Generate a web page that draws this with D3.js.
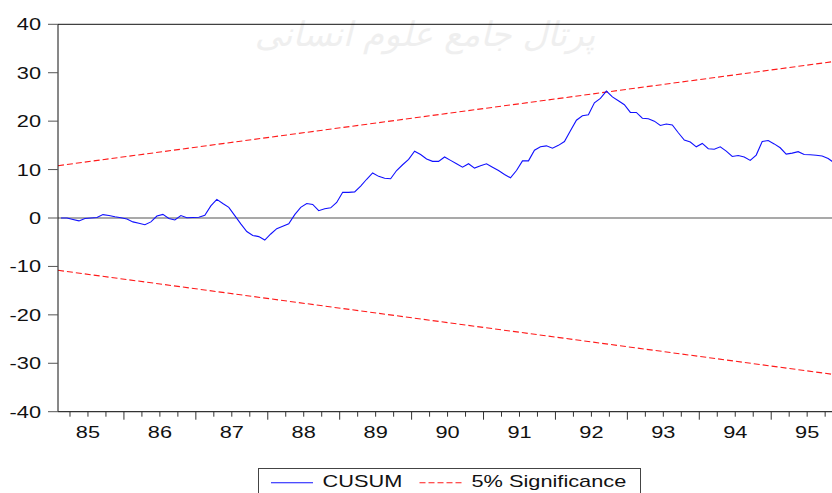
<!DOCTYPE html>
<html>
<head>
<meta charset="utf-8">
<script src="https://cdn.jsdelivr.net/npm/d3@7"></script>
<style>
  html, body { margin: 0; padding: 0; background: #fff; }
  svg { display: block; }
  text { font-family: "Liberation Sans", Arial, sans-serif; }
</style>
</head>
<body>
<svg id="chart" width="832" height="493"></svg>
<script>
// ---- data (monthly CUSUM, 1985M2 .. 1995M11) ----
const startYear = 1985;
const startMonth = 2;
const cusum = [
  0.0, 0.0, -0.3, -0.6, -0.1, 0.0, 0.1, 0.7, 0.5, 0.25,
  0.05, -0.2, -0.8, -1.1, -1.4, -0.8, 0.4, 0.75, -0.1, -0.4,
  0.5, 0.05, 0.1, 0.15, 0.55, 2.5, 3.85, 3.0, 2.2, 0.5,
  -1.2, -2.8, -3.6, -3.85, -4.55, -3.3, -2.2, -1.7, -1.2, 0.7,
  2.2, 3.0, 2.8, 1.5, 1.9, 2.1, 3.2, 5.3, 5.3, 5.4,
  6.6, 8.0, 9.3, 8.6, 8.2, 8.1, 9.8, 11.0, 12.1, 13.8,
  13.1, 12.2, 11.7, 11.7, 12.6, 11.9, 11.2, 10.5, 11.2, 10.3,
  10.8, 11.2, 10.5, 9.8, 9.0, 8.3, 9.8, 11.8, 11.8, 14.0,
  14.7, 14.9, 14.4, 15.0, 15.8, 18.0, 20.2, 21.1, 21.3, 23.8,
  24.7, 26.2, 25.0, 24.2, 23.4, 21.8, 21.8, 20.6, 20.5, 20.0,
  19.1, 19.4, 19.2, 17.6, 16.1, 15.7, 14.7, 15.4, 14.3, 14.2,
  14.7, 13.8, 12.7, 12.9, 12.6, 11.9, 13.0, 15.8, 16.0, 15.3,
  14.5, 13.2, 13.4, 13.7, 13.1, 13.05, 12.95, 12.8, 12.3, 11.4
];
// 5% significance bounds at the start and end of the sample
const upperBound = [10.8, 32.4];
const lowerBound = [-10.8, -32.4];
const yTicks = [-40, -30, -20, -10, 0, 10, 20, 30, 40];
const yearLabels = ["85","86","87","88","89","90","91","92","93","94","95"];
const watermark = "پرتال جامع علوم انسانی";

(function () {
// ---- layout ----
const svg = d3.select("#chart");
const mLeft = 58, mTop = 24.3, mBottom = 411.7;
const pxPerYear = 71.92;
const t0 = startYear + (startMonth - 1) / 12;
const t1 = t0 + cusum.length / 12;
const x = d3.scaleLinear().domain([t0, t1]).range([mLeft, mLeft + pxPerYear * (t1 - t0)]);
const y = d3.scaleLinear().domain([-40, 40]).range([mBottom, mTop]);
const mRight = x(t1);
const sx = 1.28; // horizontal text stretch
const fs = 17;

// watermark
svg.append("text")
  .attr("x", 425).attr("y", 46)
  .attr("text-anchor", "middle")
  .attr("direction", "rtl")
  .style("font-family", "'DejaVu Sans', 'Noto Sans', sans-serif")
  .style("font-size", "34px")
  .style("font-style", "italic")
  .attr("fill", "#efefef")
  .text(watermark);

// zero line
svg.append("line")
  .attr("x1", mLeft).attr("x2", mRight)
  .attr("y1", y(0)).attr("y2", y(0))
  .attr("stroke", "#555").attr("stroke-width", 1.2);

// bounds
const boundLine = d3.line().x(d => x(d[0])).y(d => y(d[1]));
[upperBound, lowerBound].forEach(b => {
  svg.append("path")
    .attr("d", boundLine([[t0, b[0]], [t1, b[1]]]))
    .attr("fill", "none")
    .attr("stroke", "#ff1a1a")
    .attr("stroke-width", 1.1)
    .attr("stroke-dasharray", "6,3");
});

// cusum line
const pts = cusum.map((v, j) => [t0 + (j + 0.5) / 12, v]);
svg.append("path")
  .attr("d", d3.line().x(d => x(d[0])).y(d => y(d[1]))(pts))
  .attr("fill", "none")
  .attr("stroke", "#1010ff")
  .attr("stroke-width", 1.1);

// frame
svg.append("line").attr("x1", mLeft).attr("x2", mRight).attr("y1", mTop).attr("y2", mTop)
  .attr("stroke", "#111").attr("stroke-width", 1);
svg.append("line").attr("x1", mLeft).attr("x2", mLeft).attr("y1", mTop).attr("y2", mBottom)
  .attr("stroke", "#111").attr("stroke-width", 1);
svg.append("line").attr("x1", mLeft).attr("x2", mRight).attr("y1", mBottom).attr("y2", mBottom)
  .attr("stroke", "#333").attr("stroke-width", 1.2);

// y axis ticks & labels
const gy = svg.append("g");
yTicks.forEach(v => {
  gy.append("line").attr("x1", mLeft - 10).attr("x2", mLeft)
    .attr("y1", y(v)).attr("y2", y(v))
    .attr("stroke", "#555").attr("stroke-width", 1);
  gy.append("text")
    .attr("transform", `translate(41,${y(v) + 6}) scale(${sx},1)`)
    .attr("text-anchor", "end")
    .style("font-size", fs + "px")
    .attr("fill", "#111")
    .text(String(v));
});

// x axis ticks (quarterly) & year labels
const gx = svg.append("g");
const quarters = d3.range(Math.ceil(t0 * 4), Math.floor(t1 * 4) + 1).map(q => q / 4);
quarters.forEach(q => {
  const major = Math.abs(q - Math.round(q)) < 1e-9;
  gx.append("line").attr("x1", x(q)).attr("x2", x(q))
    .attr("y1", mBottom).attr("y2", mBottom + (major ? 8 : 5))
    .attr("stroke", "#333").attr("stroke-width", 1);
});
yearLabels.forEach((lab, i) => {
  const yr = startYear + i + 0.5;
  gx.append("text")
    .attr("transform", `translate(${x(yr)},438) scale(${sx},1)`)
    .attr("text-anchor", "middle")
    .style("font-size", fs + "px")
    .attr("fill", "#111")
    .text(lab);
});

// legend
const lg = svg.append("g");
lg.append("rect").attr("x", 258.5).attr("y", 468.5).attr("width", 382).attr("height", 40)
  .attr("fill", "#fff").attr("stroke", "#444").attr("stroke-width", 1);
lg.append("line").attr("x1", 271).attr("x2", 313).attr("y1", 482.7).attr("y2", 482.7)
  .attr("stroke", "#1010ff").attr("stroke-width", 1.1);
lg.append("text").attr("transform", `translate(322.5,487) scale(${sx},1)`)
  .style("font-size", fs + "px").attr("fill", "#111").text("CUSUM");
lg.append("line").attr("x1", 419.5).attr("x2", 462).attr("y1", 482.7).attr("y2", 482.7)
  .attr("stroke", "#ff1a1a").attr("stroke-width", 1.1).attr("stroke-dasharray", "6,3");
lg.append("text").attr("transform", `translate(471.5,487) scale(${sx},1)`)
  .style("font-size", fs + "px").attr("fill", "#111").text("5% Significance");
})();
</script>
</body>
</html>
